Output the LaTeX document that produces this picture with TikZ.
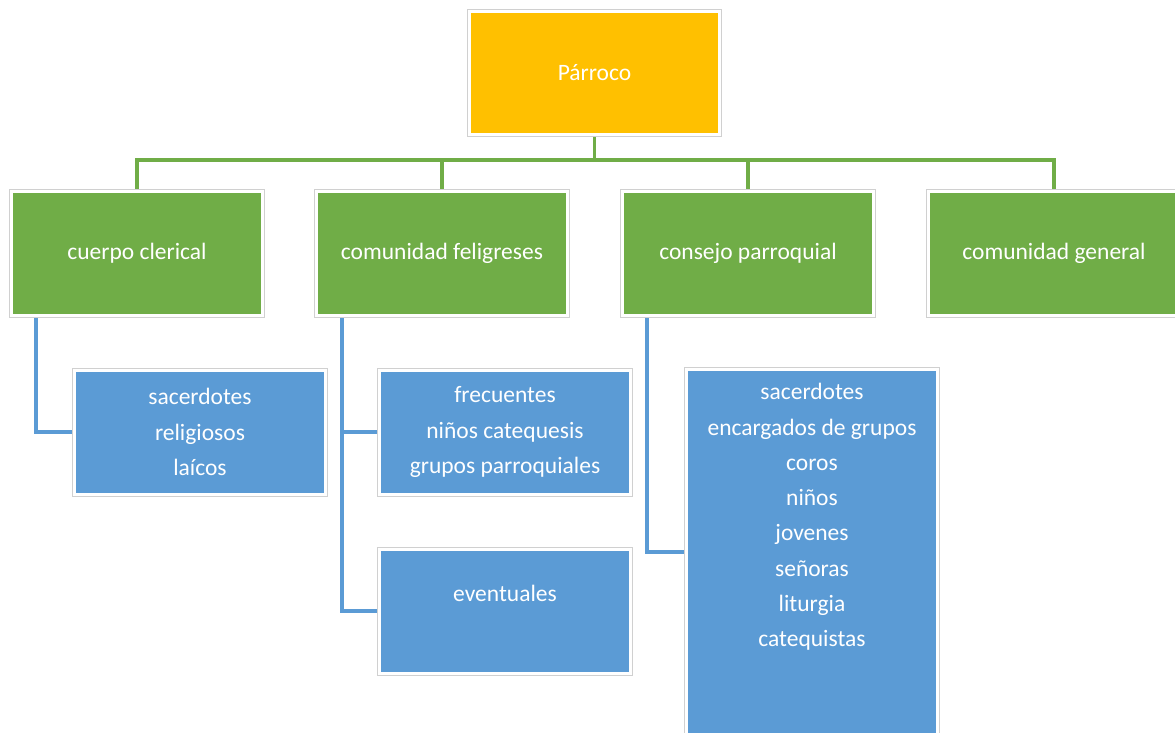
\documentclass[tikz,border=0pt]{standalone}
\usepackage{fontspec}
\setmainfont{Carlito}
\usetikzlibrary{backgrounds}
\definecolor{orng}{HTML}{FFC000}
\definecolor{grn}{HTML}{70AD47}
\definecolor{blu}{HTML}{5B9BD5}
\definecolor{rim}{HTML}{D0D0D0}
\tikzset{
  box/.style={rectangle, inner sep=0pt, minimum width=251pt, minimum height=124pt,
    draw=white, line width=3pt, preaction={draw=rim, line width=5pt},
    text=white, align=center, font=\fontsize{23.5}{35.3}\selectfont},
  txt/.style={text=white, align=center, inner sep=0pt, font=\fontsize{23.5}{35.3}\selectfont},
  gline/.style={draw=grn, line width=3.2pt},
  bline/.style={draw=blu, line width=3.2pt},
}
\begin{document}
\begin{tikzpicture}[x=1pt,y=-1pt]
\useasboundingbox (0,0) rectangle (1175,732);
\clip (0,0) rectangle (1175,732);
% top
\node[box, fill=orng, minimum width=250pt, minimum height=123pt] (parroco) at (594.5,73) {Párroco};
% level 2
\node[box, fill=grn] (g1) at (137,253.5) {cuerpo clerical};
\node[box, fill=grn] (g2) at (442,253.5) {comunidad feligreses};
\node[box, fill=grn] (g3) at (748,253.5) {consejo parroquial};
\node[box, fill=grn] (g4) at (1054,253.5) {comunidad general};
% level 3
\node[box, fill=blu] (bA) at (200,432) {sacerdotes\\religiosos\\laícos};
\node[box, fill=blu] (bB) at (505,432) {frecuentes\\niños catequesis\\grupos parroquiales};
\node[box, fill=blu] (bC) at (505,611) {};
\node[txt] (tC) at (505,593) {eventuales};
\node[box, fill=blu, minimum height=365pt] (bD) at (812,552) {};
\node[txt] (tD) at (812,517) {sacerdotes\\encargados de grupos\\coros\\niños\\jovenes\\señoras\\liturgia\\catequistas};
\begin{scope}[on background layer]
\fill[white] (0,0) rectangle (1175,732);
% green connectors
\coordinate (hub) at ([yshift=-24pt]parroco.south);
\draw[gline] (parroco.south) -- (hub);
\draw[gline] (hub) -| (g1.north);
\draw[gline] (hub) -| (g2.north);
\draw[gline] (hub) -| (g3.north);
\draw[gline] (hub) -| (g4.north);
% blue connectors
\draw[bline] ([xshift=-101pt]g1.south) |- (bA.west);
\draw[bline] ([xshift=-100pt]g2.south) |- (bB.west);
\draw[bline] ([xshift=-100pt]g2.south) |- (bC.west);
\draw[bline] ([xshift=-101pt]g3.south) |- (bD.west);
\end{scope}
\end{tikzpicture}
\end{document}
